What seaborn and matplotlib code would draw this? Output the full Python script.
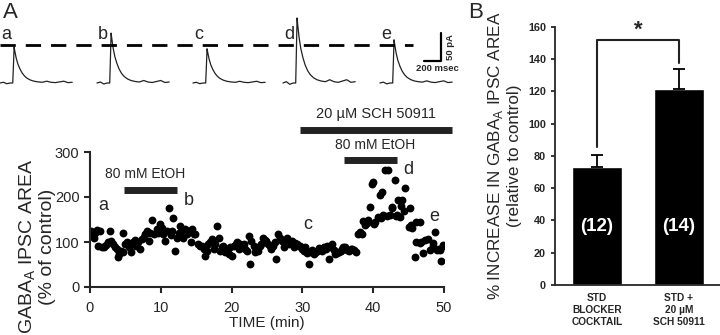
import numpy as np
import pandas as pd
import seaborn as sns
import matplotlib.pyplot as plt

sns.set_style("ticks")
plt.rcParams['font.family'] = ['Liberation Sans', 'DejaVu Sans']
plt.rcParams['mathtext.fontset'] = 'custom'
plt.rcParams['mathtext.rm'] = 'Liberation Sans'

# --- panel A, time course (min, % of control)
time_min = [0.1, 0.3, 0.5, 0.7, 1.0, 1.2, 1.4, 1.7, 2.0, 2.3, 2.6, 2.8, 3.0, 3.3, 3.5, 3.8, 4.0, 4.1,
            4.4, 4.6, 4.7, 5.0, 5.2, 5.5, 5.8, 6.1, 6.3, 6.5, 6.8, 7.1, 7.3, 7.6, 7.8, 8.0, 8.3, 8.5,
            8.7, 9.1, 9.4, 9.6, 9.9, 10.1, 10.3, 10.6, 10.9, 11.1, 11.4, 11.6, 11.7, 12.0, 12.3, 12.5,
            12.7, 13.0, 13.2, 13.4, 13.7, 13.9, 14.2, 14.4, 14.7, 14.9, 15.3, 15.6, 15.8, 16.1, 16.3,
            16.5, 16.7, 17.0, 17.2, 17.5, 17.7, 17.9, 18.2, 18.4, 18.6, 18.8, 19.1, 19.3, 19.6, 19.8,
            20.0, 20.3, 20.6, 20.8, 21.0, 21.2, 21.5, 21.7, 21.9, 22.2, 22.4, 22.6, 22.8, 23.1, 23.3,
            23.5, 23.7, 24.0, 24.2, 24.4, 24.7, 24.9, 25.1, 25.4, 25.6, 25.9, 26.1, 26.3, 26.6, 26.8,
            27.1, 27.4, 27.6, 27.8, 28.1, 28.3, 28.5, 28.8, 29.0, 29.2, 29.5, 29.7, 29.9, 30.2, 30.4,
            30.7, 30.9, 31.1, 31.4, 31.6, 31.9, 32.1, 32.3, 32.5, 32.8, 33.0, 33.3, 33.5, 33.7, 34.0,
            34.2, 34.4, 34.6, 34.9, 35.1, 35.4, 35.6, 35.8, 36.0, 36.3, 36.6, 36.8, 37.0, 37.3, 37.5,
            37.9, 38.1, 38.4, 38.6, 38.8, 39.1, 39.3, 39.5, 39.8, 40.0, 40.1, 40.3, 40.7, 41.0, 41.1,
            41.2, 41.4, 41.7, 42.0, 42.1, 42.4, 42.6, 42.7, 43.1, 43.2, 43.3, 43.5, 43.8, 43.9, 44.0,
            44.3, 44.5, 45.0, 45.2, 45.4, 45.5, 45.9, 46.1, 46.1, 46.6, 46.6, 46.8, 47.1, 47.3, 47.7,
            48.0, 48.4, 48.5, 48.7, 49.0, 49.3, 49.4, 49.6, 49.8, 49.9]
area_pct = [124, 115, 110, 121, 126, 91, 124, 89, 88, 93, 99, 124, 103, 95, 90, 84, 66, 73,
            80, 77, 120, 95, 99, 90, 77, 99, 105, 91, 99, 84, 106, 112, 117, 124, 102, 120,
            150, 117, 128, 120, 139, 132, 117, 102, 124, 175, 115, 124, 153, 80, 110, 120,
            135, 120, 110, 128, 118, 124, 99, 128, 118, 117, 95, 92, 91, 85, 69,
            80, 95, 100, 106, 84, 96, 135, 110, 80, 88, 91, 77, 82, 73, 88,
            70, 91, 95, 99, 84, 95, 90, 95, 84, 80, 113, 51, 102, 92, 77,
            85, 80, 91, 95, 110, 105, 102, 96, 91, 84, 92, 99, 62, 117, 108,
            102, 88, 95, 110, 95, 100, 102, 88, 97, 95, 92, 91, 84, 80, 88,
            75, 51, 77, 82, 73, 78, 80, 86, 84, 80, 88, 85, 91, 62, 90,
            95, 82, 73, 75, 77, 80, 84, 90, 88, 83, 80, 85, 84, 82, 77,
            117, 123, 117, 146, 138, 142, 149, 178, 230, 234, 139, 145, 156, 204, 153,
            212, 160, 260, 157, 260, 160, 178, 175, 238, 157, 160, 193, 156, 179, 193,
            168, 219, 134, 175, 138, 131, 66, 145, 101, 145, 97, 99, 75, 104, 106,
            82, 91, 97, 123, 82, 84, 82, 58, 91, 93]

# --- example IPSC traces (ms, pA)
trace_labels = ['a', 'b', 'c', 'd', 'e']
trace_start_ms = [0, 1141, 2270, 3329, 4470]
trace_peak_pa = [64, 89, 61, 116, 77]
shape_t_ms = [0, 40, 80, 120, 150, 160, 166, 175, 190, 210, 235, 260, 290, 320, 360, 400,
              450, 500, 550, 600, 650, 700, 750, 800, 850]
shape_norm = [0.0, 0.02, -0.02, 0.0, 0.0, 0.6, 1.0, 0.88, 0.7, 0.53, 0.39, 0.28, 0.19, 0.13,
              0.08, 0.05, 0.03, 0.02, 0.05, 0.02, 0.01, 0.03, 0.05, 0.01, 0.02]

# --- panel B
groups = ['STD\nBLOCKER\nCOCKTAIL', 'STD +\n20 \u00b5M\nSCH 50911']
mean_increase = [73, 121.5]
sem_increase = [7.5, 12.5]
n_cells = ['(12)', '(14)']

fig = plt.figure(figsize=(7.2, 3.35), dpi=100)

# traces
ax_tr = fig.add_axes([0, 1 - 90 / 335, 460 / 720, 90 / 335])
ax_tr.set_xlim(0, 5412)
ax_tr.set_ylim(-12.5, 148)
ax_tr.axis('off')
for lab, t0, amp in zip(trace_labels, trace_start_ms, trace_peak_pa):
    tt = [t0 + s for s in shape_t_ms]
    yy = [amp * v for v in shape_norm]
    ax_tr.plot(tt, yy, color='#222222', lw=0.9)
    ax_tr.text(t0 + 10, 86, lab, fontsize=13, ha='left', va='center')
ax_tr.plot([0, 4860], [68, 68], color='black', lw=2, linestyle=(0, (5.5, 3.6)))
ax_tr.plot([4988, 5188, 5188], [39.3, 39.3, 89.3], color='black', lw=1.6)
ax_tr.text(5150, 26, '200 msec', fontsize=6.8, fontweight='bold', ha='center', va='center')
ax_tr.text(5300, 64, '50 pA', fontsize=6.8, fontweight='bold', ha='center', va='center', rotation=90)

fig.text(3 / 720, 1 - 12 / 335, 'A', fontsize=16, va='center', ha='left')
fig.text(468 / 720, 1 - 12 / 335, 'B', fontsize=16, va='center', ha='left')

# time course
ax = fig.add_axes([90 / 720, 1 - 287 / 335, 354 / 720, 135 / 335])
sns.scatterplot(x=time_min, y=area_pct, color='black', s=32, linewidth=0, ax=ax)
ax.set_xlim(0, 50)
ax.set_ylim(0, 300)
ax.set_xticks([0, 10, 20, 30, 40, 50])
ax.set_yticks([0, 100, 200, 300])
sns.despine(ax=ax)
for sp in ['left', 'bottom']:
    ax.spines[sp].set_linewidth(1.5)
ax.tick_params(labelsize=10.5, width=1.5, length=4)
ax.tick_params(axis='x', pad=6)
ax.set_xlabel('TIME (min)', fontsize=11, labelpad=1)
ax.set_ylabel('GABA$_\\mathregular{A}$ IPSC AREA\n(% of control)', fontsize=14, linespacing=1.1)
ax.yaxis.set_label_coords(-0.095, 0.3)

ax.plot([4.8, 12.3], [216, 216], color='#222222', lw=5, solid_capstyle='butt', clip_on=False)
ax.text(7.8, 250, '80 mM EtOH', fontsize=10, ha='center', va='center')
ax.plot([29.7, 51.1], [349, 349], color='#222222', lw=5, solid_capstyle='butt', clip_on=False)
ax.text(40.4, 385, '20 \u00b5M SCH 50911', fontsize=10.5, ha='center', va='center')
ax.plot([35.9, 43.4], [282, 282], color='#222222', lw=5, solid_capstyle='butt', clip_on=False)
ax.text(40.3, 315, '80 mM EtOH', fontsize=10, ha='center', va='center')
for lab, tx, ty in [('a', 1.9, 180), ('b', 13.9, 193), ('c', 30.8, 138), ('d', 44.9, 262), ('e', 48.6, 156)]:
    ax.text(tx, ty, lab, fontsize=13, ha='center', va='center')

# panel B bars
axb = fig.add_axes([555 / 720, 1 - 285 / 335, 165 / 720, (285 - 26.7) / 335])
df = pd.DataFrame({'group': groups, 'mean': mean_increase})
sns.barplot(data=df, x='group', y='mean', color='black', width=0.61, ax=axb)
axb.errorbar([0, 1], mean_increase, yerr=[[0, 0], sem_increase], fmt='none',
             ecolor='black', elinewidth=1.3, capsize=4, capthick=1.3)
axb.set_xlim(-0.512, 1.5)
axb.set_ylim(0, 160)
axb.set_yticks(range(0, 161, 20))
sns.despine(ax=axb)
for sp in ['left', 'bottom']:
    axb.spines[sp].set_linewidth(1.3)
axb.tick_params(axis='y', labelsize=7.8, width=1.3, length=3)
axb.tick_params(axis='x', labelsize=7.3, length=0, pad=6)
for t in axb.get_yticklabels() + axb.get_xticklabels():
    t.set_fontweight('bold')
axb.set_xlabel('')
axb.set_ylabel('% INCREASE IN GABA$_\\mathregular{A}$ IPSC AREA\n(relative to control)',
               fontsize=12.3, linespacing=1.15)
axb.yaxis.set_label_coords(-0.2, 0.5)
for i, lab in enumerate(n_cells):
    axb.text(i, 36, lab, color='white', fontsize=13.5, fontweight='bold', ha='center', va='center')
axb.plot([0, 0, 1, 1], [85.5, 151.5, 151.5, 137.5], color='#222222', lw=1.5, clip_on=False)
axb.text(0.5, 158, '*', fontsize=16, fontweight='bold', ha='center', va='center')

fig.savefig('out.png', dpi=100)
